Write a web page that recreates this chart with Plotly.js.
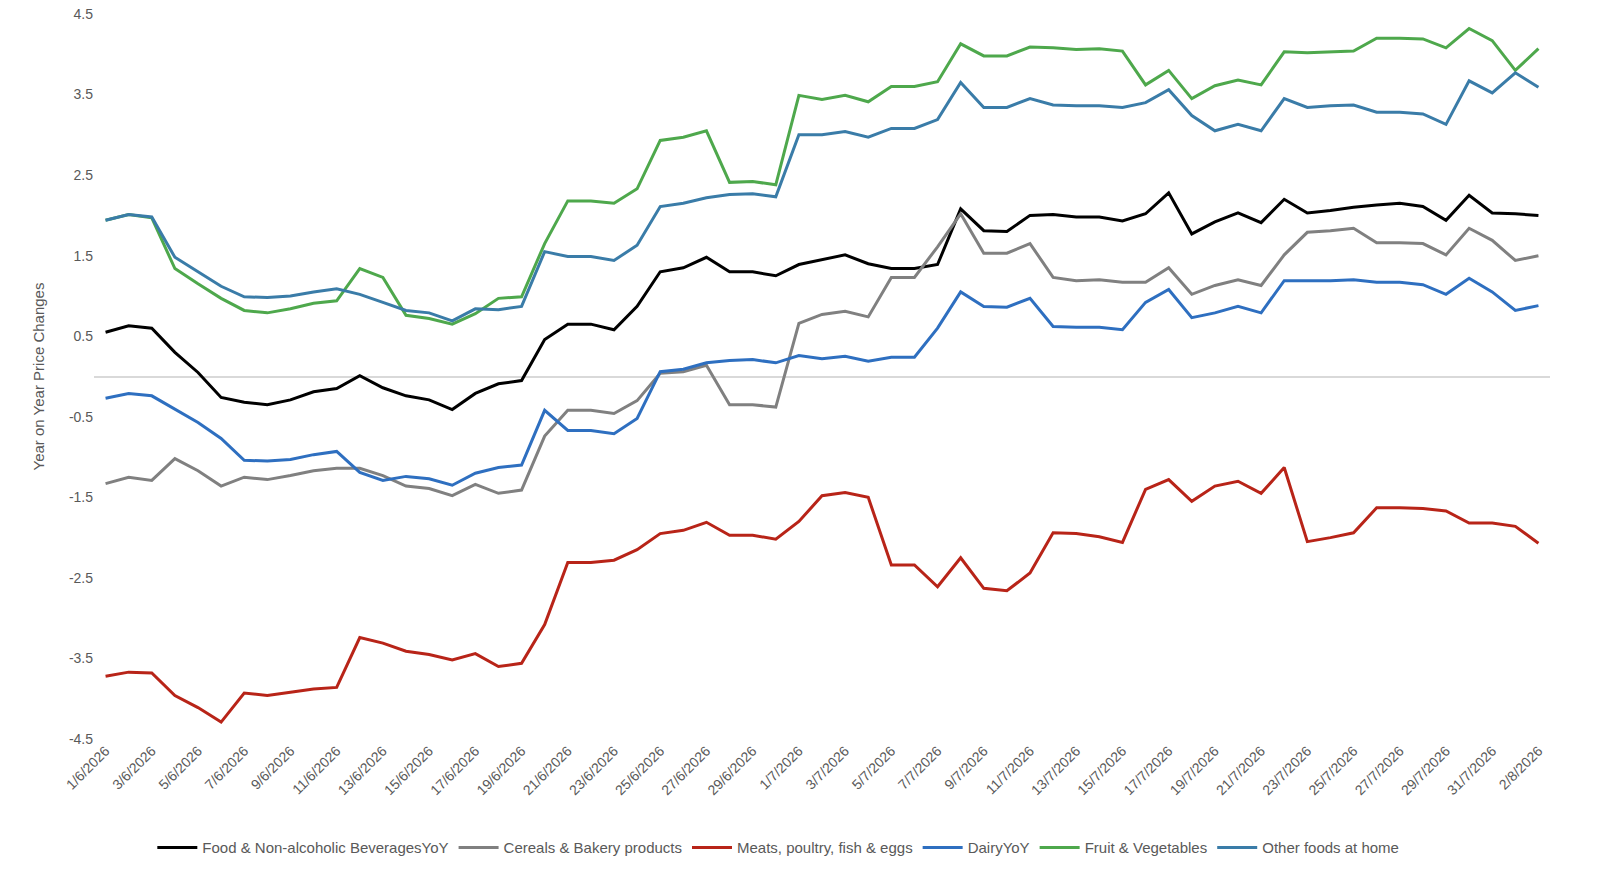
<!DOCTYPE html>
<html>
<head>
<meta charset="utf-8">
<script src="https://cdn.plot.ly/plotly-3.0.1.min.js"></script>
<style>body{margin:0;background:#fff}#myDiv{width:1600px;height:890px}</style>
</head>
<body>
<div id="myDiv"></div>
<script>
// dates 1/6/2026 .. 2/8/2026
var dates = [];
for (var d = 1; d <= 30; d++) dates.push(d + '/6/2026');
for (var d = 1; d <= 31; d++) dates.push(d + '/7/2026');
for (var d = 1; d <= 2; d++) dates.push(d + '/8/2026');

var food = [0.55,0.63,0.6,0.3,0.05,-0.26,-0.32,-0.35,-0.29,-0.19,-0.15,0.01,-0.14,-0.24,-0.29,-0.41,-0.21,-0.09,-0.05,0.46,0.65,0.65,0.58,0.87,1.3,1.35,1.48,1.3,1.3,1.25,1.39,1.45,1.51,1.4,1.34,1.34,1.39,2.08,1.81,1.8,2.0,2.01,1.98,1.98,1.93,2.02,2.28,1.77,1.92,2.03,1.91,2.2,2.03,2.06,2.1,2.13,2.15,2.11,1.94,2.25,2.03,2.02,2.0];
var cereals = [-1.33,-1.25,-1.29,-1.02,-1.17,-1.36,-1.25,-1.28,-1.23,-1.17,-1.14,-1.14,-1.23,-1.36,-1.39,-1.48,-1.34,-1.45,-1.41,-0.74,-0.42,-0.42,-0.46,-0.3,0.04,0.06,0.14,-0.35,-0.35,-0.38,0.66,0.77,0.81,0.74,1.23,1.23,1.61,2.02,1.53,1.53,1.65,1.23,1.19,1.2,1.17,1.17,1.35,1.02,1.13,1.2,1.13,1.51,1.79,1.81,1.84,1.66,1.66,1.65,1.51,1.84,1.69,1.44,1.5];
var meats = [-3.72,-3.67,-3.68,-3.96,-4.11,-4.29,-3.93,-3.96,-3.92,-3.88,-3.86,-3.24,-3.31,-3.41,-3.45,-3.52,-3.44,-3.6,-3.56,-3.08,-2.31,-2.31,-2.28,-2.15,-1.95,-1.91,-1.81,-1.97,-1.97,-2.02,-1.8,-1.48,-1.44,-1.5,-2.34,-2.34,-2.61,-2.25,-2.63,-2.66,-2.44,-1.94,-1.95,-1.99,-2.06,-1.4,-1.28,-1.55,-1.36,-1.3,-1.45,-1.13,-2.05,-2.0,-1.94,-1.63,-1.63,-1.64,-1.67,-1.82,-1.82,-1.86,-2.07];
var dairy = [-0.27,-0.21,-0.24,-0.4,-0.57,-0.77,-1.04,-1.05,-1.03,-0.97,-0.93,-1.19,-1.29,-1.24,-1.27,-1.35,-1.2,-1.13,-1.1,-0.42,-0.67,-0.67,-0.71,-0.52,0.06,0.09,0.17,0.2,0.21,0.17,0.26,0.22,0.25,0.19,0.24,0.24,0.6,1.05,0.87,0.86,0.97,0.62,0.61,0.61,0.58,0.92,1.08,0.73,0.79,0.87,0.79,1.19,1.19,1.19,1.2,1.17,1.17,1.14,1.02,1.22,1.05,0.82,0.88];
var fruit = [1.94,2.01,1.97,1.34,1.15,0.97,0.82,0.79,0.84,0.91,0.94,1.34,1.23,0.76,0.72,0.65,0.78,0.97,0.99,1.65,2.18,2.18,2.15,2.33,2.93,2.97,3.05,2.41,2.42,2.38,3.49,3.44,3.49,3.41,3.6,3.6,3.66,4.13,3.98,3.98,4.09,4.08,4.06,4.07,4.04,3.62,3.8,3.45,3.61,3.68,3.62,4.03,4.02,4.03,4.04,4.2,4.2,4.19,4.08,4.32,4.17,3.8,4.07];
var other = [1.94,2.01,1.98,1.48,1.3,1.12,0.99,0.98,1.0,1.05,1.09,1.02,0.92,0.82,0.79,0.69,0.84,0.83,0.87,1.55,1.49,1.49,1.44,1.63,2.11,2.15,2.22,2.26,2.27,2.23,3.0,3.0,3.04,2.97,3.08,3.08,3.19,3.65,3.34,3.34,3.45,3.37,3.36,3.36,3.34,3.4,3.56,3.24,3.05,3.13,3.05,3.45,3.34,3.36,3.37,3.28,3.28,3.26,3.13,3.67,3.52,3.77,3.59];

var names = ['Food & Non-alcoholic BeveragesYoY','Cereals & Bakery products','Meats, poultry, fish & eggs','DairyYoY','Fruit & Vegetables','Other foods at home'];
var colors = ['#000000','#808080','#B82418','#2E6FC0','#4EA84C','#3A7CA8'];
var series = [food, cereals, meats, dairy, fruit, other];

var data = series.map(function(s, k){
  return {x: dates, y: s, name: names[k], type: 'scatter', mode: 'lines',
          line: {color: colors[k], width: 3}};
});

var tickv = dates.filter(function(d, i){ return i % 2 === 0; });
var yt = [-4.5,-3.5,-2.5,-1.5,-0.5,0.5,1.5,2.5,3.5,4.5];

var layout = {
  width: 1600, height: 890,
  margin: {l: 94, r: 50, t: 14, b: 151},
  font: {family: 'Liberation Sans, Arial, sans-serif', size: 14, color: '#595959'},
  plot_bgcolor: '#fff', paper_bgcolor: '#fff',
  showlegend: true,
  legend: {orientation: 'h', x: 0.47, xanchor: 'center', y: -0.15, yanchor: 'middle',
           itemwidth: 40, tracegroupgap: 0, font: {size: 15, color: '#595959'}},
  xaxis: {type: 'category', range: [-0.5, 62.5], tickvals: tickv, ticktext: tickv, automargin: false,
          tickangle: -45, showgrid: false, zeroline: false, showline: false},
  yaxis: {range: [-4.5, 4.5], tickvals: yt, ticktext: yt.map(String), showgrid: false, automargin: false,
          zeroline: true, zerolinecolor: '#d9d9d9', zerolinewidth: 1.5, showline: false,
          title: {text: 'Year on Year Price Changes', font: {size: 15, color: '#595959'}, standoff: 20}}
};
Plotly.newPlot('myDiv', data, layout, {displayModeBar: false});
</script>
</body>
</html>
